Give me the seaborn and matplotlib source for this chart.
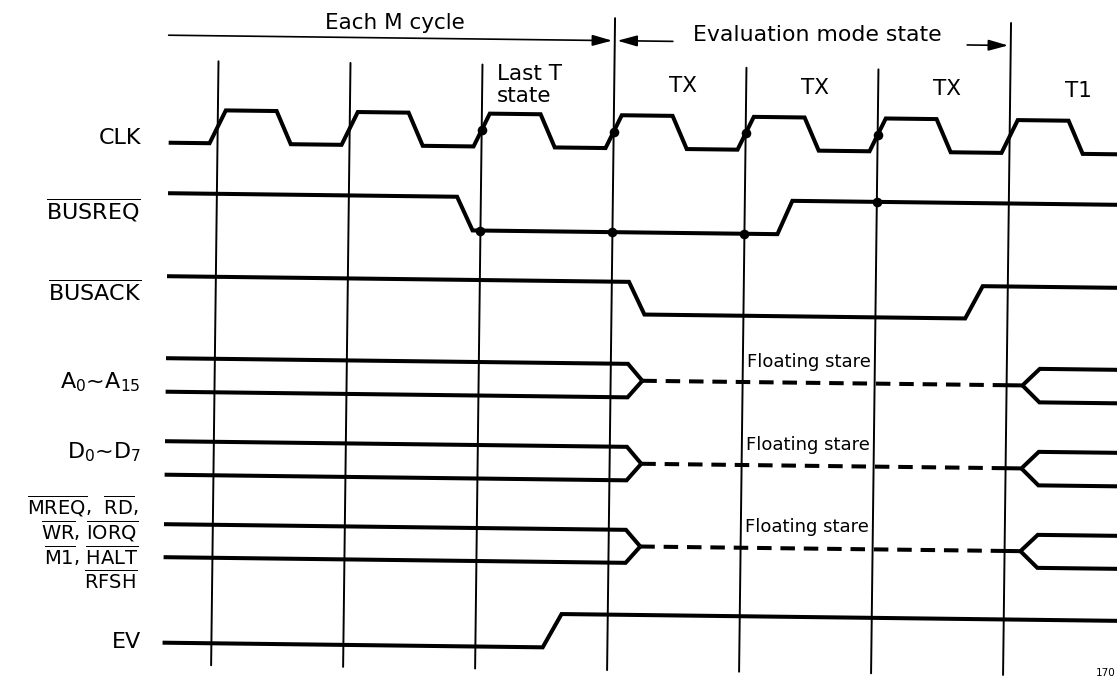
import numpy as np
import pandas as pd
import matplotlib
matplotlib.use("Agg")
import matplotlib.pyplot as plt
import matplotlib.transforms as mtransforms
import seaborn as sns

# ---- data (times in T states, 0 = first clock line) ----
clk_rise = [0, 1, 2, 3, 4, 5, 6]
clk_fall = [0.5, 1.5, 2.5, 3.5, 4.5, 5.5, 6.5]
clk_dots = [2, 3, 4, 5]

busreq_t = [-0.37, 1.82, 1.94, 4.25, 4.36, 7.0]
busreq_v = [1, 1, 0, 0, 1, 1]
busreq_dots_t = [2, 3, 4, 5]
busreq_dots_v = [0, 0, 0, 1]

busack_t = [-0.37, 3.13, 3.25, 5.68, 5.81, 7.0]
busack_v = [1, 1, 0, 0, 1, 1]

ev_t = [-0.37, 2.51, 2.65, 7.0]
ev_v = [0, 0, 1, 1]

# bus lines: hold until, float from, float end, driven from, valid from
bus_times = [3.13, 3.24, 6.0, 6.12, 6.25]

vline_t = [0, 1, 2, 3, 4, 5, 6]
long_vlines = [3, 6]

state_t = [3, 4, 5, 6]
state_names = ["TX", "TX", "TX", "T1"]

signal_names = ["CLK", r"$\overline{\mathrm{BUSREQ}}$", r"$\overline{\mathrm{BUSACK}}$",
                "A$_0$~A$_{15}$", "D$_0$~D$_7$", "EV"]
ctrl_lines = [r"$\overline{\mathrm{MREQ}}$,  $\overline{\mathrm{RD}}$,",
              r"$\overline{\mathrm{WR}}$, $\overline{\mathrm{IORQ}}$",
              r"$\overline{\mathrm{M1}}$, $\overline{\mathrm{HALT}}$",
              r"$\overline{\mathrm{RFSH}}$"]
float_text = "Floating stare"

# ---- layout ----
X0, T = 215, 132
START, END = -0.37, 7.0
rows = {"clk": (115, 148), "busreq": (198.5, 232), "busack": (281.5, 314),
        "a": (363.5, 397), "d": (446.5, 480), "m": (529.5, 562.5), "ev": (614.5, 648)}


def px(t):
    return X0 + T * np.asarray(t, dtype=float)


def lvl(row, v):
    hi, lo = rows[row]
    return lo + (hi - lo) * np.asarray(v, dtype=float)


sns.set_theme(style="white")
plt.rcParams["font.family"] = ["DejaVu Sans"]
plt.rcParams["mathtext.fontset"] = "dejavusans"
plt.rcParams["text.color"] = "black"

fig = plt.figure(figsize=(11.17, 6.83), dpi=100)
ax = fig.add_axes([0, 0, 1, 1])
# the scanned sheet is turned a little clockwise
tr = mtransforms.Affine2D().rotate_deg_around(600, 350, 0.7) + ax.transData

segs = []


def add(seg, t, y):
    segs.append(pd.DataFrame({"x": px(t), "y": y, "seg": seg}))


# clock
edges = sorted([(r, 1) for r in clk_rise] + [(f, 0) for f in clk_fall])
ct, cv = [START], [0]
for tt, v in edges:
    w = 0.06 if v else 0.055
    ct += [tt - w, tt + w]
    cv += [1 - v, v]
ct.append(END)
cv.append(cv[-1])
add("clk", ct, lvl("clk", cv))
add("busreq", busreq_t, lvl("busreq", busreq_v))
add("busack", busack_t, lvl("busack", busack_v))
add("ev", ev_t, lvl("ev", ev_v))

hold, flt, flt_end, drv, valid = bus_times
dash_segs = []
for r in ["a", "d", "m"]:
    hi, lo = rows[r]
    mid = (hi + lo) / 2
    add(r + "u", [START, hold, flt], [hi, hi, mid])
    add(r + "l", [START, hold, flt], [lo, lo, mid])
    add(r + "u2", [flt_end, drv, valid, END], [mid, mid, hi, hi])
    add(r + "l2", [drv, valid, END], [mid, lo, lo])
    dash_segs.append(pd.DataFrame({"x": px([flt, flt_end]), "y": [mid, mid], "seg": r}))

sig = pd.concat(segs, ignore_index=True)
sns.lineplot(data=sig, x="x", y="y", units="seg", estimator=None, sort=False,
             color="black", lw=2.9, ax=ax, transform=tr, legend=False,
             solid_joinstyle="miter", solid_capstyle="butt")
dash = pd.concat(dash_segs, ignore_index=True)
sns.lineplot(data=dash, x="x", y="y", units="seg", estimator=None, sort=False,
             color="black", lw=2.9, ax=ax, transform=tr, legend=False,
             linestyle=(0, (3.6, 2.2)), dash_capstyle="butt")

# vertical state lines
vl = pd.DataFrame({
    "x": px(np.repeat(vline_t, 2)),
    "y": np.ravel([[18 if t in long_vlines else 66, 670] for t in vline_t]),
    "seg": np.repeat(vline_t, 2),
})
sns.lineplot(data=vl, x="x", y="y", units="seg", estimator=None, sort=False,
             color="black", lw=1.4, ax=ax, transform=tr, legend=False)

# sample dots
dots = pd.DataFrame({
    "x": px(clk_dots + busreq_dots_t),
    "y": np.concatenate([lvl("clk", [0.5] * len(clk_dots)),
                         lvl("busreq", busreq_dots_v)]),
})
sns.scatterplot(data=dots, x="x", y="y", color="black", s=48, linewidth=0,
                ax=ax, transform=tr, legend=False, zorder=5)

# arrows at the top
arrow = dict(arrowstyle="-|>,head_length=1.0,head_width=0.28", color="black",
             lw=1.2, shrinkA=0, shrinkB=0)
for tail, tip in [(-0.38, 2.98), (3.44, 3.02), (5.67, 5.98)]:
    ax.annotate("", xy=(px(tip), 40.5), xytext=(px(tail), 40.5),
                xycoords=tr, textcoords=tr, arrowprops=arrow)

ax.text(395, 29, "Each M cycle", ha="center", va="baseline", fontsize=15.5)
ax.text(693, 41, "Evaluation mode state", ha="left", va="baseline", fontsize=15.8)
ax.text(px(2.11), 81, "Last T", ha="left", va="baseline", fontsize=15.5, transform=tr)
ax.text(px(2.11), 103, "state", ha="left", va="baseline", fontsize=15.5, transform=tr)
for t, name in zip(state_t, state_names):
    ax.text(px(t + 0.52), 91, name, ha="center", va="baseline", fontsize=15.5,
            transform=tr)
for r in ["a", "d", "m"]:
    hi, lo = rows[r]
    ax.text(px(4.03), (hi + lo) / 2 - 15.5, float_text, ha="left", va="baseline",
            fontsize=13, transform=tr)

# signal names
for name, yb in zip(signal_names, [144, 220, 301, 388, 458, 648]):
    ax.text(141, yb, name, ha="right", va="baseline", fontsize=16)
for line, yb in zip(ctrl_lines, [514, 539, 564, 589]):
    ax.text(138, yb, line, ha="right", va="baseline", fontsize=14)

ax.text(1116, 676, "170", ha="right", va="baseline", fontsize=7.5)

ax.set_xlim(0, 1117)
ax.set_ylim(683, 0)
ax.axis("off")
fig.savefig("out.png", dpi=100)
